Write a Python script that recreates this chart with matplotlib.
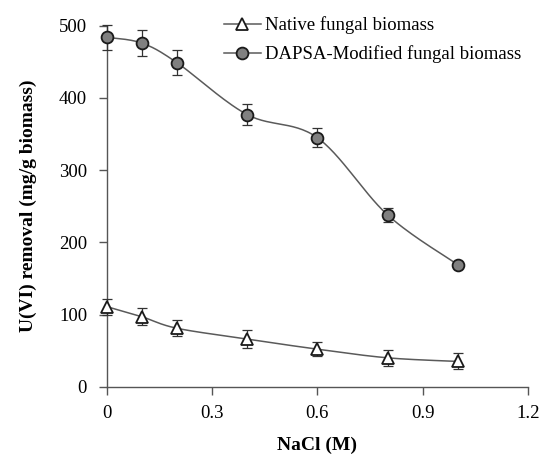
import numpy as np
import matplotlib.pyplot as plt

plt.rcParams['font.family'] = ['Liberation Serif', 'DejaVu Serif']

nacl = [0, 0.1, 0.2, 0.4, 0.6, 0.8, 1.0]
native = [111, 97, 81, 66, 52, 40, 35]
native_err = [11, 12, 11, 12, 10, 11, 11]
dapsa = [484, 476, 449, 377, 345, 238, 169]
dapsa_err = [17, 18, 17, 15, 13, 10, 3]


def smooth(x, y, n=30):
    # spreadsheet-style smoothed line: cubic Bezier segments, tension 1/6
    x = np.asarray(x, float)
    y = np.asarray(y, float)
    px = np.concatenate([[x[0]], x, [x[-1]]])
    py = np.concatenate([[y[0]], y, [y[-1]]])
    xs, ys = [], []
    t = np.linspace(0, 1, n)
    for i in range(1, len(px) - 2):
        p0 = np.array([px[i], py[i]])
        p3 = np.array([px[i + 1], py[i + 1]])
        p1 = p0 + (np.array([px[i + 1], py[i + 1]]) - np.array([px[i - 1], py[i - 1]])) / 6
        p2 = p3 - (np.array([px[i + 2], py[i + 2]]) - np.array([px[i], py[i]])) / 6
        b = ((1 - t) ** 3)[:, None] * p0 + (3 * (1 - t) ** 2 * t)[:, None] * p1 \
            + (3 * (1 - t) * t ** 2)[:, None] * p2 + (t ** 3)[:, None] * p3
        xs.extend(b[:, 0])
        ys.extend(b[:, 1])
    return xs, ys


fig = plt.figure(figsize=(5.43, 4.55), dpi=100)
ax = fig.add_axes([106.5 / 543, 1 - 386.7 / 455, (528 - 106.5) / 543, (386.7 - 25.7) / 455])

line_c = '#5a5a5a'
for yv, err, mk, fc, lab in [(native, native_err, '^', 'white', 'Native fungal biomass'),
                             (dapsa, dapsa_err, 'o', '#808080', 'DAPSA-Modified fungal biomass')]:
    sx, sy = smooth(nacl, yv)
    ax.plot(sx, sy, color=line_c, lw=1.1, zorder=2, clip_on=False)
    ax.errorbar(nacl, yv, yerr=err, fmt='none', ecolor='#333333', elinewidth=0.9,
                capsize=3.5, capthick=0.9, zorder=3, clip_on=False)
    ax.plot(nacl, yv, ls='none', marker=mk, ms=8.5, mfc=fc, mec='#1a1a1a', mew=1.3,
            zorder=4, clip_on=False)
    ax.plot([], [], color=line_c, lw=1.1, marker=mk, ms=8.5, mfc=fc, mec='#1a1a1a',
            mew=1.3, label=lab)

ax.set_xlim(0, 1.2)
ax.set_ylim(0, 500)
ax.set_xticks([0, 0.3, 0.6, 0.9, 1.2])
ax.set_xticklabels(['0', '0.3', '0.6', '0.9', '1.2'])
ax.set_yticks([0, 100, 200, 300, 400, 500])
for s in ['top', 'right']:
    ax.spines[s].set_visible(False)
for s in ['left', 'bottom']:
    ax.spines[s].set_color('#555555')
    ax.spines[s].set_linewidth(1.0)
ax.tick_params(direction='out', length=6, width=1.0, color='#555555', labelsize=13.5)
ax.tick_params(axis='y', pad=8)
ax.tick_params(axis='x', pad=7)
ax.set_xlabel('NaCl (M)', fontsize=14, fontweight='bold', labelpad=11)
ax.set_ylabel('U(VI) removal (mg/g biomass)', fontsize=14, fontweight='bold', labelpad=16)

ax.legend(loc='upper left', bbox_to_anchor=(0.26, 1.047), frameon=False, fontsize=13.5,
          handlelength=2.0, handletextpad=0.2, labelspacing=0.6, borderaxespad=0)

fig.savefig('out.png', dpi=100)
